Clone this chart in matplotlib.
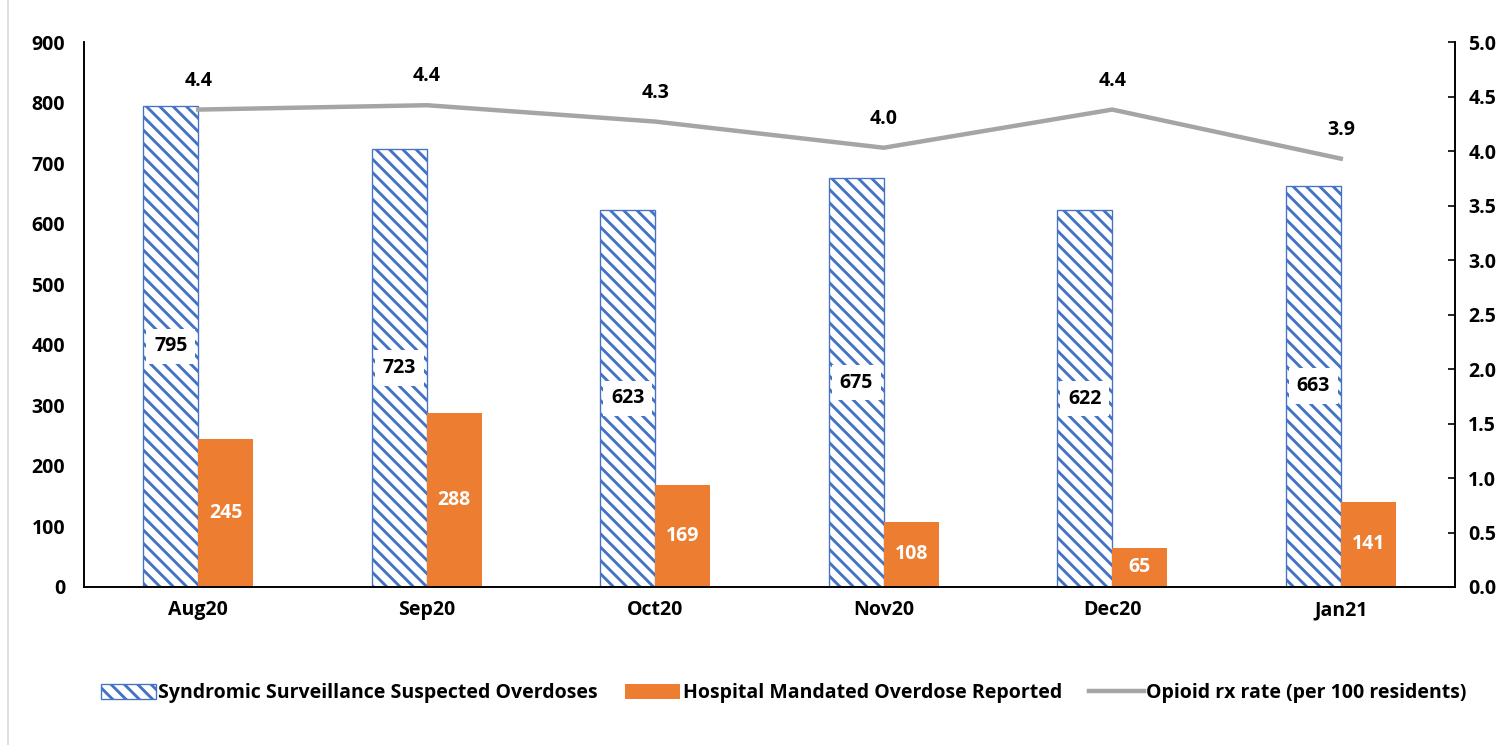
import numpy as np
import matplotlib.pyplot as plt
from matplotlib.patches import Patch
from matplotlib.lines import Line2D

months = ["Aug20", "Sep20", "Oct20", "Nov20", "Dec20", "Jan21"]
syndromic = [795, 723, 623, 675, 622, 663]
hospital = [245, 288, 169, 108, 65, 141]
opioid_rate = [4.38, 4.42, 4.27, 4.03, 4.38, 3.93]

BLUE = "#4472C4"
ORANGE = "#ED7D31"
GRAY = "#A5A5A5"

plt.rcParams['font.family'] = ['Open Sans', 'DejaVu Sans']
plt.rcParams['font.weight'] = 'bold'
plt.rcParams['hatch.linewidth'] = 2.6

DPI = 80
fig = plt.figure(figsize=(1512 / DPI, 745 / DPI), dpi=DPI)
ax = fig.add_axes([84 / 1512, 1 - 587 / 745, (1455 - 84) / 1512, (587 - 42) / 745])
ax2 = ax.twinx()

fs = 17.5
x = np.arange(len(months))
w = 0.24

b1 = ax.bar(x - w / 2, syndromic, w, facecolor="white", edgecolor=BLUE,
            hatch="\\\\", linewidth=1.2, zorder=2)
b2 = ax.bar(x + w / 2, hospital, w, color=ORANGE, zorder=2)

for xi, v in zip(x, syndromic):
    ax.text(xi - w / 2, v / 2, str(v), ha="center", va="center", fontsize=fs,
            fontweight="bold", color="black", zorder=5,
            bbox=dict(facecolor="white", edgecolor="none", pad=7))
for xi, v in zip(x, hospital):
    ax.text(xi + w / 2, v / 2, str(v), ha="center", va="center", fontsize=fs,
            fontweight="bold", color="white", zorder=5)

ax2.plot(x, opioid_rate, color=GRAY, linewidth=4, zorder=3)
for xi, v in zip(x, opioid_rate):
    ax2.annotate(f"{v:.1f}", (xi, v), xytext=(0, 17), textcoords="offset points",
                 ha="center", va="bottom", fontsize=fs, fontweight="bold")

ax.set_xlim(-0.5, len(months) - 0.5)
ax.set_ylim(0, 900)
ax.set_yticks(range(0, 901, 100))
ax2.set_ylim(0, 5)
ax2.set_yticks(np.arange(0, 5.01, 0.5))
ax2.set_yticklabels([f"{t:.1f}" for t in np.arange(0, 5.01, 0.5)])

ax.set_xticks(x)
ax.set_xticklabels(months)
for a in (ax, ax2):
    a.spines["top"].set_visible(False)
    a.spines["left"].set_linewidth(1.5)
    a.spines["bottom"].set_linewidth(1.5)
    a.spines["right"].set_linewidth(1.5)
ax.tick_params(axis="y", length=0, pad=17, labelsize=fs)
ax.tick_params(axis="x", length=0, pad=12, labelsize=fs)
ax2.tick_params(axis="y", direction="in", length=6, width=1.5, pad=12, labelsize=fs)
for lab in ax.get_xticklabels() + ax.get_yticklabels() + ax2.get_yticklabels():
    lab.set_fontweight("bold")

handles = [
    Patch(facecolor="white", edgecolor=BLUE, hatch="\\\\", linewidth=1.2,
          label="Syndromic Surveillance Suspected Overdoses"),
    Patch(facecolor=ORANGE, label="Hospital Mandated Overdose Reported"),
    Line2D([0], [0], color=GRAY, linewidth=4, label="Opioid rx rate (per 100 residents)"),
]
fig.legend(handles=handles, loc="center", bbox_to_anchor=(0.5185, 1 - 693 / 745),
           ncol=3, frameon=False, handlelength=2.8, handleheight=0.8,
           columnspacing=1.4, handletextpad=0.15, prop={"weight": "bold", "size": fs})

fig.add_artist(Line2D([8 / 1512, 8 / 1512], [0, 1], color="#D9D9D9", linewidth=1.5))

fig.savefig("out.png", dpi=DPI)
